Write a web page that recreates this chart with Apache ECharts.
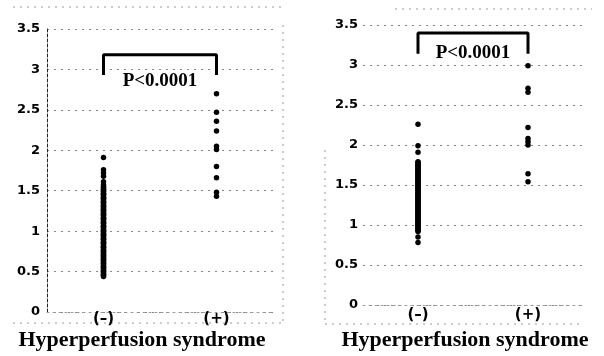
<!DOCTYPE html>
<html><head><meta charset="utf-8">
<script src="https://cdn.jsdelivr.net/npm/echarts@6/dist/echarts.min.js"></script>
<style>html,body{margin:0;padding:0;background:#fff}#c{width:604px;height:356px}</style>
</head><body><div id="c"></div>
<script>
const categories = ['(–)', '(+)'];
const yTicks = [0, 0.5, 1, 1.5, 2, 2.5, 3, 3.5];
// Left panel: (–) group (dense column of overlapping patients) and (+) group
const leftNeg = [0.44,0.45,0.46,0.47,0.49,0.50,0.51,0.52,0.54,0.55,0.56,0.57,0.59,0.60,0.61,0.62,0.64,0.65,0.66,0.67,0.69,0.70,0.71,0.72,0.74,0.75,0.76,0.77,0.79,0.80,0.81,0.82,0.84,0.85,0.86,0.87,0.89,0.90,0.91,0.92,0.94,0.95,0.96,0.97,0.99,1.00,1.01,1.02,1.04,1.05,1.06,1.07,1.09,1.10,1.11,1.12,1.14,1.15,1.16,1.17,1.19,1.20,1.21,1.22,1.24,1.25,1.26,1.27,1.29,1.30,1.31,1.32,1.34,1.35,1.36,1.37,1.39,1.40,1.41,1.42,1.44,1.45,1.46,1.47,1.49,1.50,1.51,1.52,1.54,1.55,1.57,1.61,1.68,1.72,1.76,1.91];
const leftPos = [2.70,2.47,2.36,2.24,2.05,2.01,1.80,1.66,1.48,1.43];
// Right panel
const rightNeg = [2.26,1.99,1.91,0.92,0.93,0.94,0.95,0.97,0.98,0.99,1.00,1.02,1.03,1.04,1.05,1.07,1.08,1.09,1.10,1.12,1.13,1.14,1.15,1.17,1.18,1.19,1.20,1.22,1.23,1.24,1.25,1.27,1.28,1.29,1.30,1.32,1.33,1.34,1.35,1.37,1.38,1.39,1.40,1.42,1.43,1.44,1.45,1.47,1.48,1.49,1.50,1.52,1.53,1.54,1.55,1.57,1.58,1.59,1.60,1.62,1.63,1.64,1.65,1.67,1.68,1.69,1.70,1.72,1.73,1.74,1.75,1.77,1.78,1.79,0.85,0.78];
const rightPos = [2.99,2.71,2.66,2.22,2.08,2.04,2.00,1.64,1.54];
// Significance brackets [low, high]
const leftBracket = [2.93, 3.18];
const rightBracket = [3.14, 3.40];
const pText = 'P<0.0001';
const xTitle = 'Hyperperfusion syndrome';

const chart = echarts.init(document.getElementById('c'));
const grids = [
  {left: 47, top: 29, width: 226, height: 283},
  {left: 363, top: 25, width: 220, height: 280}
];
function xAxis(i, margin){
  return {type:'category', gridIndex:i, data:categories, boundaryGap:true,
    axisLine:{show:true, lineStyle:{color:'#999', type:[2,4], width:1}},
    axisTick:{show:false},
    axisLabel:{margin:margin, color:'#000', fontFamily:'DejaVu Sans', fontWeight:'bold', fontSize:15}};
}
function yAxis(i, showLine, margin){
  return {type:'value', gridIndex:i, min:0, max:3.5, interval:0.5,
    axisLine:{show:showLine, lineStyle:{color:'#222', type:[3,2], width:1}},
    axisTick:{show:false},
    splitLine:{show:true, lineStyle:{color:'#888', type:[2,5], width:1}},
    axisLabel:{margin:margin, color:'#000', fontFamily:'DejaVu Sans', fontWeight:'bold', fontSize:13,
      formatter: v => yTicks.includes(v) ? String(v) : ''}};
}
function dots(i, cat, arr){
  return {type:'scatter', xAxisIndex:i, yAxisIndex:i, symbolSize:5.5, large:false,
    itemStyle:{color:'#000', opacity:1}, data: arr.map(v => [cat, v]), animation:false};
}
function bracket(i, b){
  return {type:'line', xAxisIndex:i, yAxisIndex:i, symbol:'none', animation:false,
    lineStyle:{color:'#000', width:3}, data:[[categories[0], b[0]],[categories[0], b[1]],[categories[1], b[1]],[categories[1], b[0]]]};
}
chart.setOption({
  backgroundColor:'#fff',
  grid: grids,
  xAxis: [xAxis(0, 0), xAxis(1, 3)],
  yAxis: [yAxis(0, true, 7), yAxis(1, false, 5)],
  series: [
    dots(0, categories[0], leftNeg), dots(0, categories[1], leftPos), bracket(0, leftBracket),
    dots(1, categories[0], rightNeg), dots(1, categories[1], rightPos), bracket(1, rightBracket)
  ]
});
function mid(i, yv){
  const a = chart.convertToPixel({gridIndex:i}, [categories[0], yv]);
  const b = chart.convertToPixel({gridIndex:i}, [categories[1], yv]);
  return [(a[0]+b[0])/2, a[1]];
}
const pL = mid(0, 2.85), pR = mid(1, 3.15);
const frame = {stroke:'#999', lineWidth:1, lineDash:[2,5]};
chart.setOption({graphic: [
  {type:'text', x:pL[0], y:pL[1], style:{text:pText, font:'bold 19px "Liberation Serif"', fill:'#000', align:'center', verticalAlign:'middle'}},
  {type:'text', x:pR[0], y:pR[1], style:{text:pText, font:'bold 19px "Liberation Serif"', fill:'#000', align:'center', verticalAlign:'middle'}},
  {type:'text', x:142, y:340, style:{text:xTitle, font:'bold 22px "Liberation Serif"', fill:'#000', align:'center', verticalAlign:'middle'}},
  {type:'text', x:465, y:340, style:{text:xTitle, font:'bold 22px "Liberation Serif"', fill:'#000', align:'center', verticalAlign:'middle'}},
  {type:'line', shape:{x1:13,y1:7,x2:283,y2:7}, style:frame},
  {type:'line', shape:{x1:283,y1:25,x2:283,y2:323}, style:frame},
  {type:'line', shape:{x1:13,y1:323,x2:283,y2:323}, style:frame},
  {type:'line', shape:{x1:395,y1:9,x2:592,y2:9}, style:frame},
  {type:'line', shape:{x1:325,y1:150,x2:325,y2:325}, style:frame},
  {type:'line', shape:{x1:325,y1:324,x2:580,y2:324}, style:frame}
]});
</script>
</body></html>
